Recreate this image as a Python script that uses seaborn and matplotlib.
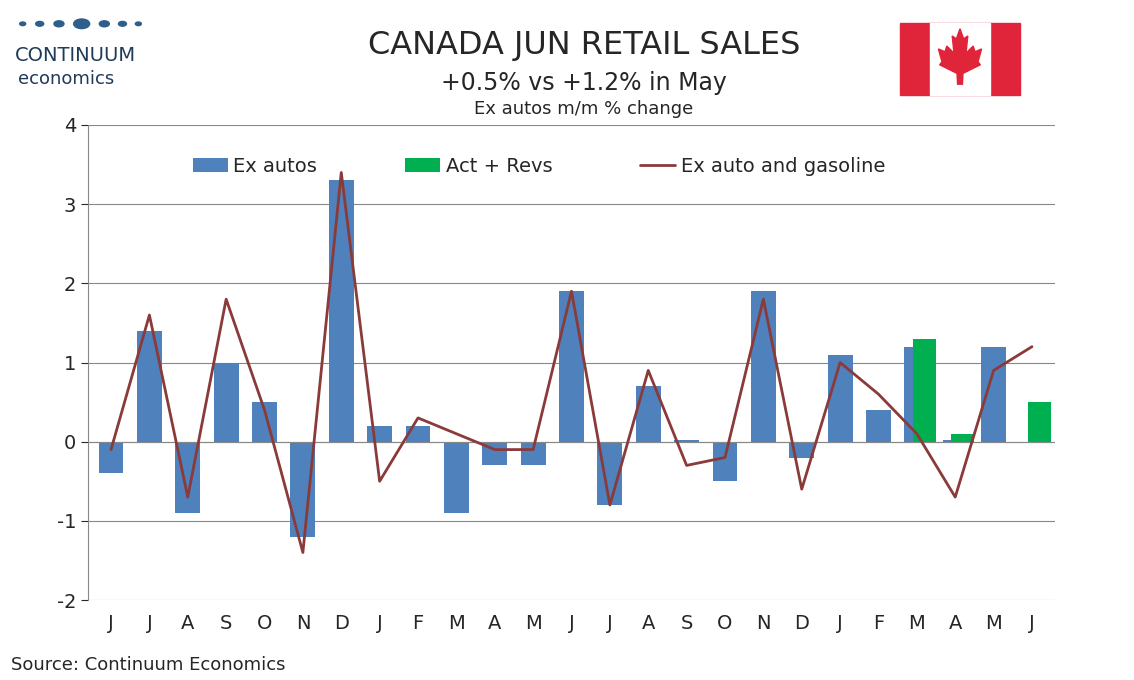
import numpy as np
import pandas as pd
import matplotlib
matplotlib.use("Agg")
import matplotlib.pyplot as plt
import seaborn as sns
from matplotlib.patches import Rectangle, Polygon

months = ["J","J","A","S","O","N","D","J","F","M","A","M","J","J","A","S","O","N","D","J","F","M","A","M","J"]
ex_autos = [-0.4,1.4,-0.9,1.0,0.5,-1.2,3.3,0.2,0.2,-0.9,-0.3,-0.3,1.9,-0.8,0.7,0.02,-0.5,1.9,-0.2,1.1,0.4,1.2,0.02,1.2,np.nan]
act_revs = [np.nan]*21 + [1.3,0.1,np.nan,0.5]
ex_auto_gas = [-0.1,1.6,-0.7,1.8,0.4,-1.4,3.4,-0.5,0.3,0.1,-0.1,-0.1,1.9,-0.8,0.9,-0.3,-0.2,1.8,-0.6,1.0,0.6,0.1,-0.7,0.9,1.2]

sns.set_style("white")
plt.rcParams['font.family'] = ['Verdana', 'DejaVu Sans']
fig = plt.figure(figsize=(11.34, 6.8), dpi=100)
ax = fig.add_axes([88/1134, 80/680, 967/1134, 475/680])

x = np.arange(len(months))
blue = "#4F81BD"; green = "#00B050"; red = "#8B3A3A"
ax.bar(x, ex_autos, width=0.65, color=blue, linewidth=0, label="Ex autos", zorder=2)
ax.bar(x + 0.2, act_revs, width=0.6, color=green, linewidth=0, label="Act + Revs", zorder=3)
df = pd.DataFrame({"x": x, "y": ex_auto_gas})
sns.lineplot(data=df, x="x", y="y", ax=ax, color=red, lw=2, label="Ex auto and gasoline", zorder=4)

ax.set_ylim(-2, 4)
ax.set_xlim(-0.6, len(months) - 0.4)
ax.set_yticks(range(-2, 5))
ax.set_yticklabels([str(v) for v in range(-2, 5)], fontsize=14)
ax.set_xticks(x)
ax.set_xticklabels(months, fontsize=14)
ax.tick_params(axis='x', length=0, pad=10)
ax.tick_params(axis='y', length=5, direction='out', left=True)
ax.grid(axis='y', color='#888888', lw=0.8, zorder=0)
ax.axhline(0, color='#888888', lw=0.8)
for s in ["top", "right", "bottom"]:
    ax.spines[s].set_visible(False)
ax.spines["left"].set_color("#888888")
ax.set_xlabel(""); ax.set_ylabel("")
h, l = ax.get_legend_handles_labels()
order = [l.index("Ex autos"), l.index("Act + Revs"), l.index("Ex auto and gasoline")]
ax.legend([h[i] for i in order], [l[i] for i in order], loc="upper left", bbox_to_anchor=(0.09, 0.97),
          ncol=3, frameon=False, fontsize=14, handlelength=1.8, columnspacing=4.5, handletextpad=0.3)

fig.text(0.515, 0.92, "CANADA JUN RETAIL SALES", ha="center", fontsize=23)
fig.text(0.515, 0.868, "+0.5% vs +1.2% in May", ha="center", fontsize=17)
fig.text(0.515, 0.833, "Ex autos m/m % change", ha="center", fontsize=13)
fig.text(0.01, 0.015, "Source: Continuum Economics", fontsize=13)

# logo
for xx, r in [(0.02,3),(0.035,4),(0.052,5),(0.072,8),(0.092,5),(0.108,4),(0.122,3)]:
    fig.patches.append(plt.Circle((xx, 0.965), r/1134, transform=fig.transFigure, color="#2E5F8A"))
fig.text(0.013, 0.91, "CONTINUUM", fontsize=14, color="#1F3B57")
fig.text(0.016, 0.897, "economics", fontsize=13, color="#1F3B57", va="top")

# flag
fx, fy, fw, fh = 900/1134, 585/680, 120/1134, 72/680
fig.patches.append(Rectangle((fx, fy), fw, fh, transform=fig.transFigure, color="#E0243A"))
fig.patches.append(Rectangle((fx + fw*0.25, fy), fw*0.5, fh, transform=fig.transFigure, color="white"))
cx, cy = fx + fw/2, fy + fh/2
leaf = [(0,0.42),(0.06,0.28),(0.13,0.32),(0.1,0.08),(0.22,0.18),(0.25,0.1),(0.36,0.14),(0.3,-0.04),(0.34,-0.08),
        (0.05,-0.2),(0.04,-0.35),(-0.04,-0.35),(-0.05,-0.2),(-0.34,-0.08),(-0.3,-0.04),(-0.36,0.14),(-0.25,0.1),
        (-0.22,0.18),(-0.1,0.08),(-0.13,0.32),(-0.06,0.28)]
pts = [(cx + px*fw*0.5, cy + py*fh) for px, py in leaf]
fig.patches.append(Polygon(pts, closed=True, transform=fig.transFigure, color="#E0243A"))

fig.savefig("out.png", dpi=100)
